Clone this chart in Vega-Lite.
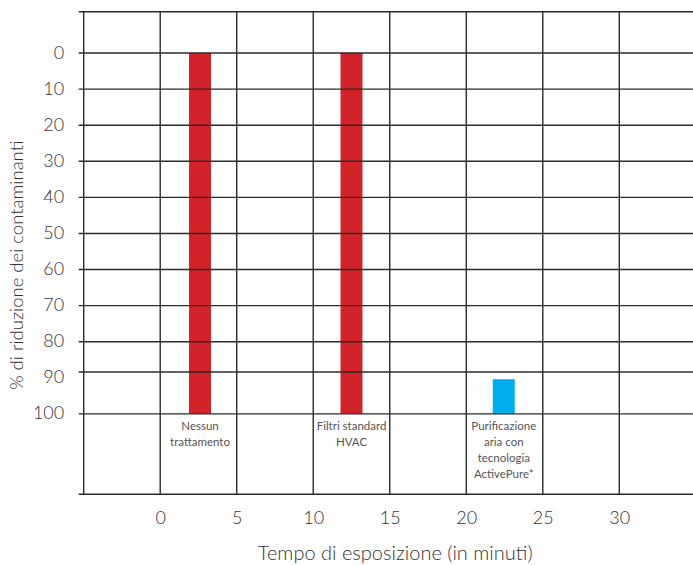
{
  "$schema": "https://vega.github.io/schema/vega-lite/v6.json",
  "width": 616,
  "height": 482.6,
  "autosize": {"type": "none"},
  "padding": {"left": 78.7, "top": 11.7, "right": 0, "bottom": 70.7},
  "background": "white",
  "config": {"view": {"stroke": null}, "font": "Lato"},
  "datasets": {
    "bars": [
      {"treatment": "Nessun trattamento", "label": ["Nessun", "trattamento"], "center": 2.6, "top": 0, "bottom": 100, "kind": "standard"},
      {"treatment": "Filtri standard HVAC", "label": ["Filtri standard", "HVAC"], "center": 12.5, "top": 0, "bottom": 100, "kind": "standard"},
      {"treatment": "Purificazione aria con tecnologia ActivePure*", "label": ["Purificazione", "aria con", "tecnologia", "ActivePure*"], "center": 22.45, "top": 90.4, "bottom": 100, "kind": "activepure"}
    ],
    "hgrid": [
      {"v": -11.46}, {"v": 0}, {"v": 10}, {"v": 20}, {"v": 30}, {"v": 40}, {"v": 50},
      {"v": 60}, {"v": 70}, {"v": 80}, {"v": 88.4}, {"v": 100}, {"v": 122.3}
    ],
    "vgrid": [
      {"v": -5}, {"v": 0}, {"v": 5}, {"v": 10}, {"v": 15}, {"v": 20}, {"v": 25}, {"v": 30}
    ]
  },
  "layer": [
    {
      "data": {"name": "bars"},
      "mark": {"type": "bar", "width": 22},
      "encoding": {
        "x": {
          "field": "center", "type": "quantitative", "title": "Tempo di esposizione (in minuti)",
          "scale": {"domain": [-5, 34.6], "nice": false, "zero": false},
          "axis": {
            "values": [0, 5, 10, 15, 20, 25, 30], "grid": false, "domain": false, "ticks": false,
            "labelFontSize": 18, "labelColor": "#333333", "labelPadding": 15, "labelDx": -3,
            "labelFontWeight": 300,
            "titleFontSize": 20, "titleFontWeight": 300, "titleColor": "#333333", "titlePadding": 16,
            "titleX": 316
          }
        },
        "y": {
          "field": "top", "type": "quantitative", "title": "% di riduzione dei contaminanti",
          "scale": {"domain": [-11.46, 122.3], "reverse": true, "nice": false, "zero": false},
          "axis": {
            "values": [0, 10, 20, 30, 40, 50, 60, 70, 80, 90, 100], "grid": false, "domain": false, "ticks": false,
            "labelFontSize": 18, "labelColor": "#333333", "labelPadding": 15, "labelFontWeight": 300, "labelDy": 2,
            "titleFontSize": 18.5, "titleFontWeight": 300, "titleColor": "#333333", "titlePadding": 6,
            "titleY": 253
          }
        },
        "y2": {"field": "bottom"},
        "color": {
          "field": "kind", "type": "nominal", "legend": null,
          "scale": {"domain": ["standard", "activepure"], "range": ["#d2232a", "#00aeef"]}
        }
      }
    },
    {
      "data": {"name": "hgrid"},
      "mark": {"type": "rule", "color": "#2b2b2b", "strokeWidth": 1.4},
      "encoding": {
        "y": {"field": "v", "type": "quantitative", "title": "% di riduzione dei contaminanti"}
      }
    },
    {
      "data": {"name": "vgrid"},
      "mark": {"type": "rule", "color": "#2b2b2b", "strokeWidth": 1.4},
      "encoding": {
        "x": {"field": "v", "type": "quantitative", "title": "Tempo di esposizione (in minuti)"}
      }
    },
    {
      "data": {"name": "bars"},
      "mark": {"type": "text", "baseline": "top", "align": "center", "dy": 7, "fontSize": 11.5, "lineHeight": 16, "color": "#555555", "font": "Lato"},
      "encoding": {
        "x": {"field": "center", "type": "quantitative", "title": "Tempo di esposizione (in minuti)"},
        "y": {"field": "bottom", "type": "quantitative", "title": "% di riduzione dei contaminanti"},
        "text": {"field": "label"}
      }
    }
  ]
}
